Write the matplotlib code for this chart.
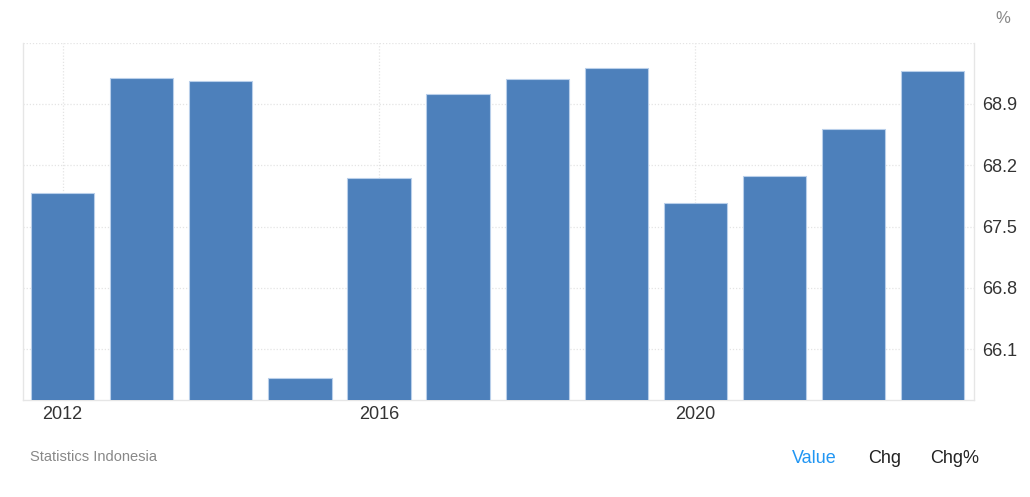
import matplotlib.pyplot as plt
import numpy as np

# annual values
years = np.arange(2012, 2024)
values = [67.88, 69.20, 69.16, 65.77, 68.06, 69.01,
          69.19, 69.31, 67.77, 68.08, 68.62, 69.28]
ytick_values = [66.1, 66.8, 67.5, 68.2, 68.9, 69.6]
ytick_labels = ['66.1', '66.8', '67.5', '68.2', '68.9', '']
xtick_years = [2012, 2016, 2020]

plt.rcParams['font.family'] = ['Liberation Sans', 'DejaVu Sans']

fig = plt.figure(figsize=(10.3, 4.97), dpi=100)
ax = fig.add_axes([0.0223, 0.1952, 0.9233, 0.7189])

ax.bar(years, values, width=0.8, color='#4d80bb', edgecolor='#b9cfea',
       linewidth=0.8, zorder=3)

ax.set_xlim(2011.5, 2023.52)
ax.set_ylim(65.52, 69.6)

ax.yaxis.tick_right()
ax.set_yticks(ytick_values)
ax.set_yticklabels(ytick_labels)
ax.set_xticks(xtick_years)
ax.set_xticklabels([str(y) for y in xtick_years])
ax.tick_params(axis='y', length=0, pad=6, labelsize=13, colors='#333333')
ax.tick_params(axis='x', length=0, pad=4, labelsize=13, colors='#333333')

ax.grid(True, color='#e4e4e4', linestyle=(0, (1, 1.5)), linewidth=0.9,
        zorder=0)

ax.spines['top'].set_visible(False)
for side in ['left', 'right', 'bottom']:
    ax.spines[side].set_color('#e6e6e6')
    ax.spines[side].set_linewidth(1.0)

fig.text(0.9735, 0.962, '%', fontsize=12, color='#888888',
         ha='center', va='center')
fig.text(0.029, 0.08, 'Statistics Indonesia', fontsize=10.5, color='#888888',
         ha='left', va='center')
fig.text(0.7905, 0.077, 'Value', fontsize=13, color='#2196f3',
         ha='center', va='center')
fig.text(0.859, 0.077, 'Chg', fontsize=13, color='#222222',
         ha='center', va='center')
fig.text(0.927, 0.077, 'Chg%', fontsize=13, color='#222222',
         ha='center', va='center')

fig.savefig('out.png', dpi=100)
